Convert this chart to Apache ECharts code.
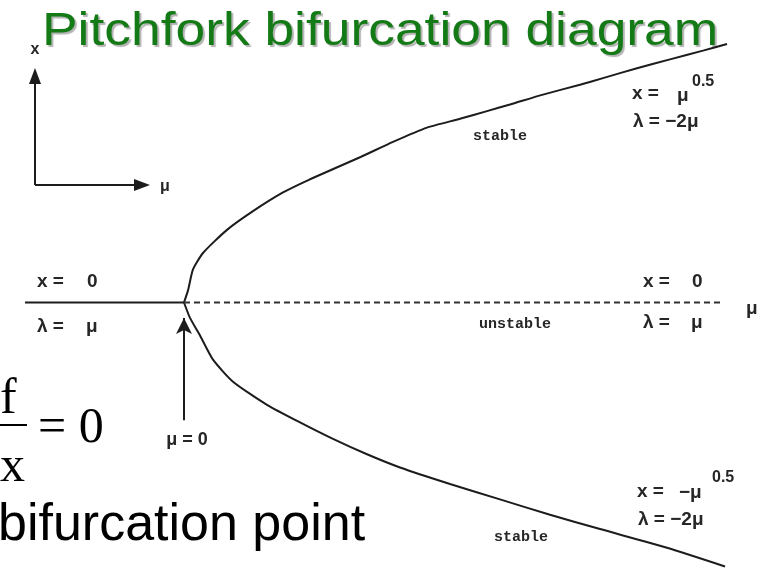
<!DOCTYPE html>
<html>
<head>
<meta charset="utf-8">
<script src="https://cdn.jsdelivr.net/npm/echarts@6.0.0/dist/echarts.min.js"></script>
<style>
  html, body { margin: 0; padding: 0; background: #fff; }
  #chart { width: 767px; height: 568px; }
</style>
</head>
<body>
<div id="chart"></div>
<script>
// stable branch x = +sqrt(mu)
const upperMu = [0, 0.04, 0.09, 0.19, 0.43, 0.69, 0.99, 1.26, 1.76, 2.09, 2.43, 2.76, 3.03, 3.26, 3.59, 3.96, 4.19, 4.53, 4.86, 5.19, 5.43];
const upperX = [0, 0.11, 0.30, 0.45, 0.66, 0.83, 1.00, 1.12, 1.32, 1.46, 1.59, 1.67, 1.74, 1.80, 1.89, 1.98, 2.04, 2.13, 2.21, 2.29, 2.35];
// stable branch x = -sqrt(mu)
const lowerMu = [0, 0.06, 0.16, 0.29, 0.49, 0.83, 1.16, 1.49, 1.83, 2.16, 2.66, 3.16, 3.66, 4.16, 4.83, 5.41];
const lowerX = [0, -0.14, -0.30, -0.52, -0.72, -0.93, -1.09, -1.24, -1.38, -1.50, -1.65, -1.79, -1.93, -2.06, -2.23, -2.40];
// x = 0 branch: stable for mu < 0, unstable for mu > 0
const stableZeroMu = [-1.59, 0];
const unstableZeroMu = [0, 5.39];
// the "mu = 0" pointer
const pointerX = [-1.07, -0.14];

const ink = '#1c1c1c';
const sans = '"Liberation Sans", Arial, sans-serif';
const serif = '"Liberation Serif", "Times New Roman", serif';
const scanFont = 'bold 19px ' + sans;
const supFont = 'bold 16px ' + sans;
const typeFont = 'bold 15px "Liberation Mono", monospace';

function pairs(xs, ys) {
  return xs.map((v, i) => [v, ys[i]]);
}

function label(x, y, text, font, align) {
  return {
    type: 'text',
    x: x,
    y: y,
    style: {
      text: text,
      font: font || scanFont,
      fill: '#262626',
      align: align || 'left',
      verticalAlign: 'middle',
    },
  };
}

function bigText(x, y, text, font) {
  return {
    type: 'text',
    x: x,
    y: y,
    style: { text: text, font: font, fill: '#000', verticalAlign: 'top' },
  };
}

const chart = echarts.init(document.getElementById('chart'));

const option = {
  animation: false,
  backgroundColor: '#fff',
  grid: { left: 0, right: 0, top: 0, bottom: 0 },
  xAxis: { type: 'value', min: -1.84, max: 5.83, show: false },
  yAxis: { type: 'value', min: -2.414, max: 2.75, show: false },
  series: [
    {
      type: 'line',
      data: pairs(upperMu, upperX),
      showSymbol: false,
      smooth: 0.2,
      lineStyle: { color: ink, width: 2 },
      z: 3,
    },
    {
      type: 'line',
      data: pairs(lowerMu, lowerX),
      showSymbol: false,
      smooth: 0.2,
      lineStyle: { color: ink, width: 2 },
      z: 3,
    },
    {
      type: 'line',
      data: stableZeroMu.map((m) => [m, 0]),
      showSymbol: false,
      lineStyle: { color: ink, width: 2 },
    },
    {
      type: 'line',
      data: unstableZeroMu.map((m) => [m, 0]),
      showSymbol: false,
      lineStyle: { color: '#333', width: 2, type: [6, 4] },
      markLine: {
        silent: true,
        symbol: ['none', 'arrow'],
        symbolSize: [12, 16],
        label: { show: false },
        lineStyle: { color: ink, width: 2, type: 'solid' },
        data: [[{ coord: [0, pointerX[0]] }, { coord: [0, pointerX[1]] }]],
      },
    },
  ],
  graphic: [
    // title, a little wider than plain Arial
    {
      type: 'text',
      x: 42,
      y: 9,
      scaleX: 1.16,
      style: {
        text: 'Pitchfork bifurcation diagram',
        font: '46px ' + sans,
        fill: '#137a16',
        verticalAlign: 'top',
        textShadowColor: 'rgba(0,0,0,0.3)',
        textShadowOffsetX: 2,
        textShadowOffsetY: 2,
        textShadowBlur: 1,
      },
      z: 10,
    },
    // small x / mu axes sketch
    { type: 'line', shape: { x1: 35, y1: 185, x2: 35, y2: 80 }, style: { stroke: ink, lineWidth: 2 } },
    { type: 'polygon', shape: { points: [[35, 68], [29, 84], [41, 84]] }, style: { fill: ink } },
    { type: 'line', shape: { x1: 35, y1: 185, x2: 138, y2: 185 }, style: { stroke: ink, lineWidth: 2 } },
    { type: 'polygon', shape: { points: [[150, 185], [134, 179], [134, 191]] }, style: { fill: ink } },
    label(35, 50, 'x', 'bold 16px ' + sans, 'center'),
    label(160, 187, 'μ', 'bold 16px ' + sans, 'left'),
    // x = 0 labels, left and right
    label(37, 282, 'x =', scanFont),
    label(87, 282, '0', scanFont),
    label(37, 327, 'λ =', scanFont),
    label(86, 327, 'μ', scanFont),
    label(643, 282, 'x =', scanFont),
    label(692, 282, '0', scanFont),
    label(643, 323, 'λ =', scanFont),
    label(691, 323, 'μ', scanFont),
    label(746, 309, 'μ', scanFont),
    label(187, 440, 'μ = 0', 'bold 18px ' + sans, 'center'),
    // upper branch labels
    label(632, 94, 'x =', scanFont),
    label(677, 96, 'μ', scanFont),
    label(692, 82, '0.5', supFont),
    label(633, 122, 'λ = −2μ', scanFont),
    label(500, 136, 'stable', typeFont, 'center'),
    label(515, 324, 'unstable', typeFont, 'center'),
    // lower branch labels
    label(637, 492, 'x =', scanFont),
    label(679, 493, '−μ', scanFont),
    label(712, 478, '0.5', supFont),
    label(638, 520, 'λ = −2μ', scanFont),
    label(521, 537, 'stable', typeFont, 'center'),
    // derivative condition on the left
    bigText(0, 375, 'f', '50px ' + serif),
    { type: 'rect', shape: { x: 0, y: 424, width: 27, height: 2 }, style: { fill: '#000' } },
    bigText(38, 404, '= 0', '50px ' + serif),
    bigText(0, 443, 'x', '50px ' + serif),
    bigText(-2, 500, 'bifurcation point', '52px ' + sans),
  ],
};

chart.setOption(option);
</script>
</body>
</html>
